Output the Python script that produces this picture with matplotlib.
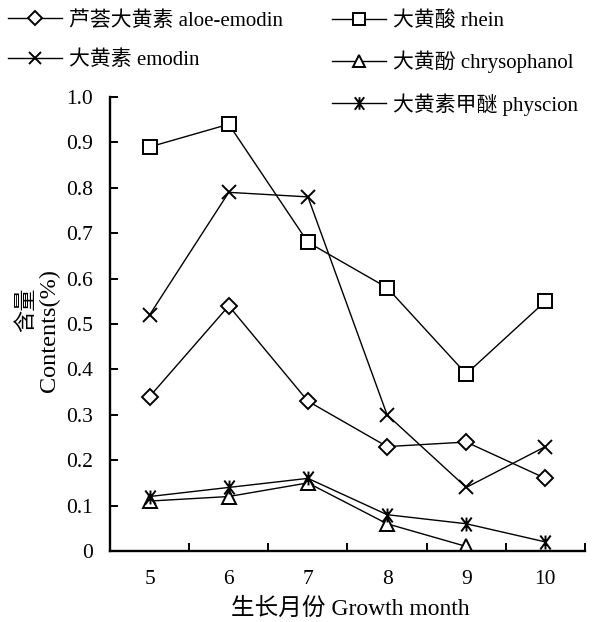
import numpy as np
import matplotlib
matplotlib.use("Agg")
import matplotlib.pyplot as plt
from matplotlib.path import Path

plt.rcParams['font.family'] = ['Liberation Serif', 'Noto Sans CJK SC']

# data
months = [5, 6, 7, 8, 9, 10]
aloe_emodin = [0.34, 0.54, 0.33, 0.23, 0.24, 0.16]
rhein = [0.89, 0.94, 0.68, 0.58, 0.39, 0.55]
emodin = [0.52, 0.79, 0.78, 0.30, 0.14, 0.23]
chrysophanol = [0.11, 0.12, 0.15, 0.06, 0.01, np.nan]
physcion = [0.12, 0.14, 0.16, 0.08, 0.06, 0.02]

labels = ['芦荟大黄素 aloe-emodin', '大黄素 emodin', '大黄酸 rhein',
          '大黄酚 chrysophanol', '大黄素甲醚 physcion']

# asterisk marker: an X with a vertical bar through it
star = Path([(0, -1), (0, 1), (-0.75, -1), (0.75, 1), (-0.75, 1), (0.75, -1)],
            [Path.MOVETO, Path.LINETO, Path.MOVETO, Path.LINETO, Path.MOVETO, Path.LINETO])

W, H = 597, 622
fig = plt.figure(figsize=(W / 100, H / 100), dpi=100)
ax = fig.add_axes([110 / W, 1 - 551 / H, 475 / W, 454 / H])

style = dict(color='black', lw=1.0, markerfacecolor='white', markeredgecolor='black',
             markeredgewidth=1.4)
l1, = ax.plot(months, aloe_emodin, marker='D', markersize=8, **style)
l2, = ax.plot(months, rhein, marker='s', markersize=10, **style)
l3, = ax.plot(months, emodin, marker='x', markersize=10, **style)
l4, = ax.plot(months, chrysophanol, marker='^', markersize=10, **style)
l5, = ax.plot(months, physcion, marker=star, markersize=10, **style)

ax.set_xlim(4.5, 10.5)
ax.set_ylim(0, 1.0)
ax.set_xticks(months)
ax.set_xticks(np.arange(5.5, 11, 1), minor=True)
ax.set_yticks(np.arange(0, 1.01, 0.1))
ax.set_yticklabels(['0'] + ['%.1f' % v for v in np.arange(0.1, 1.01, 0.1)])
ax.tick_params(axis='x', which='major', length=0, pad=14, labelsize=15.5)
ax.tick_params(axis='x', which='minor', direction='in', length=6, width=1.4)
ax.tick_params(axis='y', direction='in', length=6, width=1.4, pad=12, labelsize=15.5)

for s in ['top', 'right']:
    ax.spines[s].set_visible(False)
for s in ['left', 'bottom']:
    ax.spines[s].set_linewidth(1.7)

# axis titles
fig.text(350 / W, 1 - 609 / H, '生长月份 Growth month', ha='center', va='center', fontsize=17)
fig.text(27 / W, 1 - 310 / H, '含量', rotation=90, ha='center', va='center', fontsize=16)
fig.text(49 / W, 1 - 330 / H, 'Contents(%)', rotation=90, ha='center', va='center', fontsize=17.5)

# legend in two blocks above the plot
leg_kw = dict(frameon=False, loc='upper left', fontsize=15, handlelength=2.6,
              handletextpad=0.35, labelspacing=0.95, borderpad=0, borderaxespad=0,
              markerscale=0.9)
leg1 = fig.legend([l1, l3], [labels[0], labels[1]], bbox_to_anchor=(8 / W, 1 - 11 / H), **leg_kw)
leg2 = fig.legend([l2, l4, l5], [labels[2], labels[3], labels[4]],
                  bbox_to_anchor=(332 / W, 1 - 11 / H), **leg_kw)

fig.savefig('out.png', dpi=100)
